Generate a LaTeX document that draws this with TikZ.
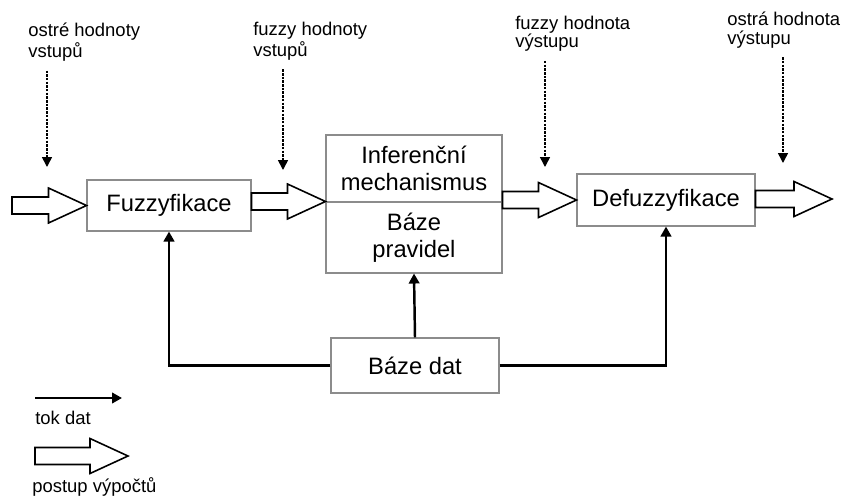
\documentclass[tikz,border=0pt]{standalone}
\usepackage{fontspec}
\setmainfont{Liberation Sans}
\usetikzlibrary{calc,arrows.meta}

% hollow block arrow ("postup vypoctu") from #1 to #2
\newcommand{\vypocet}[2]{%
	\draw[sipka] let \p1=(#1), \p2=(#2) in
		(\x1,{\y2+0.17cm}) -- ({\x2-0.76cm},{\y2+0.17cm}) -- ({\x2-0.76cm},{\y2+0.35cm})
		-- (\x2,\y2) -- ({\x2-0.76cm},{\y2-0.35cm}) -- ({\x2-0.76cm},{\y2-0.17cm})
		-- (\x1,{\y2-0.17cm}) -- cycle;}

\begin{document}
\begin{tikzpicture}[x=0.02cm, y=-0.02cm,
	blok/.style={draw=black!45, line width=0.6pt, inner sep=0pt, align=center, font=\fontsize{13.5}{15.5}\selectfont},
	popis/.style={inner sep=0pt, align=left, anchor=north west, font=\fontsize{10.5}{10.3}\selectfont},
	sipka/.style={draw=black, fill=white, line width=0.9pt, line join=miter},
	tok/.style={line width=1.4pt, -{Triangle[length=0.2cm, width=0.21cm]}},
	hodnota/.style={dash pattern=on 1.4pt off 0.7pt, line width=0.9pt, shorten <=0.18cm, -{Triangle[length=0.2cm, width=0.2cm]}}]
	\useasboundingbox (0,0) rectangle (843,498);

	\node (Fuzzyfikace)   [blok, minimum width=3.28cm, minimum height=1.02cm] at (169,205.5) {Fuzzyfikace};
	\node (Inference)     [blok, minimum width=3.52cm, minimum height=1.34cm] at (414,168.5) {Inferenční\\mechanismus};
	\node (Pravidla)      [blok, minimum width=3.52cm, minimum height=1.42cm] at (414,237.5) {Báze\\pravidel};
	\node (Defuzzyfikace) [blok, minimum width=3.56cm, minimum height=1.04cm] at (666,200) {Defuzzyfikace};
	\node (BazeDat)       [blok, minimum width=3.36cm, minimum height=1.10cm] at (415,365.5) {Báze dat};

	\node (ostreVstupy) [popis] at (28,23) {ostré hodnoty\\vstupů};
	\node (fuzzyVstupy) [popis] at (253,22) {fuzzy hodnoty\\vstupů};
	\node (fuzzyVystup) [popis] at (515,16) {fuzzy hodnota\\výstupu};
	\node (ostryVystup) [popis] at (727,12) {ostrá hodnota\\výstupu};

	\coordinate (vstup) at (12,207);
	\coordinate (vystup) at (832,199);
	\coordinate (k1) at (47,167);
	\coordinate (k2) at (283,170);
	\coordinate (k3) at (545,167);
	\coordinate (k4) at (783,163);

	% postup vypoctu
	\vypocet{vstup}{Fuzzyfikace.west}
	\vypocet{Fuzzyfikace.east}{Pravidla.north west}
	\vypocet{Pravidla.north east}{Defuzzyfikace.west}
	\vypocet{Defuzzyfikace.east}{vystup}

	% tok dat
	\draw[tok] (BazeDat.west) -| (Fuzzyfikace.south);
	\draw[tok] (BazeDat.east) -| (Defuzzyfikace.south);
	\draw[tok] (BazeDat.north) -- (Pravidla.south);

	\draw[hodnota] (ostreVstupy.south -| k1) -- (k1);
	\draw[hodnota] (fuzzyVstupy.south -| k2) -- (k2);
	\draw[hodnota] (fuzzyVystup.south -| k3) -- (k3);
	\draw[hodnota] (ostryVystup.south -| k4) -- (k4);

	% legenda
	\coordinate (tokA) at (35,398);
	\coordinate (tokB) at (122,398);
	\coordinate (postupA) at (35,456);
	\coordinate (postupB) at (128,456);
	\draw[tok] (tokA) -- (tokB);
	\node (tokDat) [popis, anchor=west] at (35,418) {tok dat};
	\vypocet{postupA}{postupB}
	\node (postupVypoctu) [popis, anchor=west] at (32,487) {postup výpočtů};
\end{tikzpicture}
\end{document}
